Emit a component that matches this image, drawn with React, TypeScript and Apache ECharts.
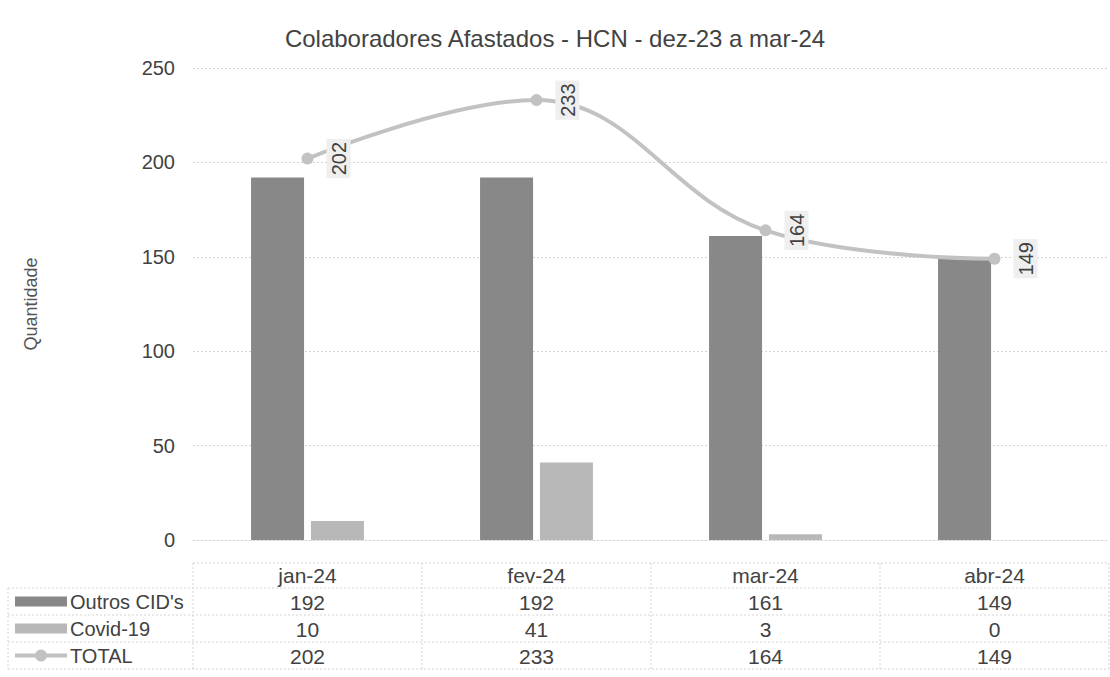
import React, { useEffect, useRef } from "react";
import * as echarts from "echarts";

const categories = ["jan-24", "fev-24", "mar-24", "abr-24"];
const outros = [192, 192, 161, 149];
const covid = [10, 41, 3, 0];
const total = [202, 233, 164, 149];
const seriesNames = ["Outros CID's", "Covid-19", "TOTAL"];
const yTicks = { min: 0, max: 250, interval: 50 };
const title = "Colaboradores Afastados - HCN - dez-23 a mar-24";
const yName = "Quantidade";

const FONT = "Liberation Sans, Arial, sans-serif";
const C_OUTROS = "#888888";
const C_COVID = "#b8b8b8";
const C_TOTAL = "#c2c2c2";
const TXT = "#424242";
const GRIDC = "#d4d4d4";

export default function App() {
  const ref = useRef<HTMLDivElement>(null);
  useEffect(() => {
    if (!ref.current) return;
    const chart = echarts.init(ref.current, null, { renderer: "svg" });
    const gLeft = 193, gRight = 1, gTop = 68, gBottom = 137;
    const W = 1110;
    const plotRight = W - gRight;
    const rowH = 27;
    const tableTop = 563;
    const firstRow = 588;
    const colW = (plotRight - gLeft) / categories.length;
    const tableFont = 21;

    const tableAxis = (vals: number[], idx: number) => ({
      type: "category",
      gridIndex: 0,
      position: "bottom",
      offset: rowH * idx,
      data: vals.map(String),
      axisLine: { show: false },
      axisTick: { show: false },
      splitLine: { show: false },
      axisLabel: { margin: 25, fontSize: tableFont, color: TXT, fontFamily: FONT, interval: 0 },
    });

    const dash = { stroke: GRIDC, lineWidth: 1, lineDash: [2, 2] };
    const graphics: any[] = [];
    graphics.push({ type: "line", shape: { x1: gLeft, y1: tableTop, x2: plotRight, y2: tableTop }, style: dash });
    for (let r = 0; r <= 3; r++) {
      const y = firstRow + r * rowH;
      graphics.push({ type: "line", shape: { x1: 8, y1: y, x2: plotRight, y2: y }, style: dash });
    }
    graphics.push({ type: "line", shape: { x1: 8, y1: firstRow, x2: 8, y2: firstRow + 3 * rowH }, style: dash });
    for (let c = 0; c <= categories.length; c++) {
      const x = gLeft + c * colW;
      graphics.push({ type: "line", shape: { x1: x, y1: tableTop, x2: x, y2: firstRow + 3 * rowH }, style: dash });
    }
    const keyColors = [C_OUTROS, C_COVID];
    seriesNames.forEach((n, i) => {
      const cy = firstRow + i * rowH + rowH / 2;
      if (i < 2) {
        graphics.push({ type: "rect", shape: { x: 15, y: cy - 5, width: 52, height: 10 }, style: { fill: keyColors[i] } });
      } else {
        graphics.push({ type: "line", shape: { x1: 15, y1: cy, x2: 67, y2: cy }, style: { stroke: C_TOTAL, lineWidth: 4 } });
        graphics.push({ type: "circle", shape: { cx: 41, cy, r: 6 }, style: { fill: C_TOTAL } });
      }
      graphics.push({ type: "text", x: 70, y: cy, style: { text: n, fontSize: 20, fill: TXT, fontFamily: FONT, textVerticalAlign: "middle" } });
    });

    chart.setOption({
      animation: false,
      backgroundColor: "#ffffff",
      title: {
        text: title,
        left: "center",
        top: 21,
        textStyle: { fontSize: 24, fontWeight: "normal", color: TXT, fontFamily: FONT },
      },
      grid: { left: gLeft, right: gRight, top: gTop, bottom: gBottom, containLabel: false },
      xAxis: [
        {
          type: "category",
          data: categories,
          axisLine: { show: true, lineStyle: { color: GRIDC, type: [2, 2] } },
          axisTick: { show: false },
          axisLabel: { margin: 25, fontSize: tableFont, color: TXT, fontFamily: FONT, interval: 0 },
        },
        tableAxis(outros, 1),
        tableAxis(covid, 2),
        tableAxis(total, 3),
      ],
      yAxis: {
        type: "value",
        min: yTicks.min,
        max: yTicks.max,
        interval: yTicks.interval,
        name: yName,
        nameLocation: "middle",
        nameRotate: 90,
        nameGap: 153,
        nameTextStyle: { fontSize: 18, color: "#555", fontFamily: FONT },
        axisLine: { show: false },
        axisTick: { show: false },
        axisLabel: { margin: 18, fontSize: 20, color: TXT, fontFamily: FONT },
        splitLine: { lineStyle: { color: GRIDC, width: 1, type: [2, 2] } },
      },
      graphic: graphics,
      series: [
        {
          name: seriesNames[0],
          type: "bar",
          data: outros,
          barWidth: 53,
          barGap: "13%",
          itemStyle: { color: C_OUTROS },
        },
        {
          name: seriesNames[1],
          type: "bar",
          data: covid,
          barWidth: 53,
          barGap: "13%",
          itemStyle: { color: C_COVID },
        },
        {
          name: seriesNames[2],
          type: "line",
          data: total,
          smooth: 0.4,
          symbol: "circle",
          symbolSize: 12,
          lineStyle: { color: C_TOTAL, width: 4 },
          itemStyle: { color: C_TOTAL },
          z: 5,
          label: {
            show: true,
            position: "right",
            distance: 25,
            rotate: 90,
            align: "center",
            verticalAlign: "middle",
            fontSize: 20,
            color: TXT,
            fontFamily: FONT,
            backgroundColor: "#efefef",
            padding: [2, 3],
          },
        },
      ],
    });
    return () => chart.dispose();
  }, []);
  return <div ref={ref} style={{ width: 1110, height: 677, position: "absolute", left: 0, top: 0 }} />;
}
